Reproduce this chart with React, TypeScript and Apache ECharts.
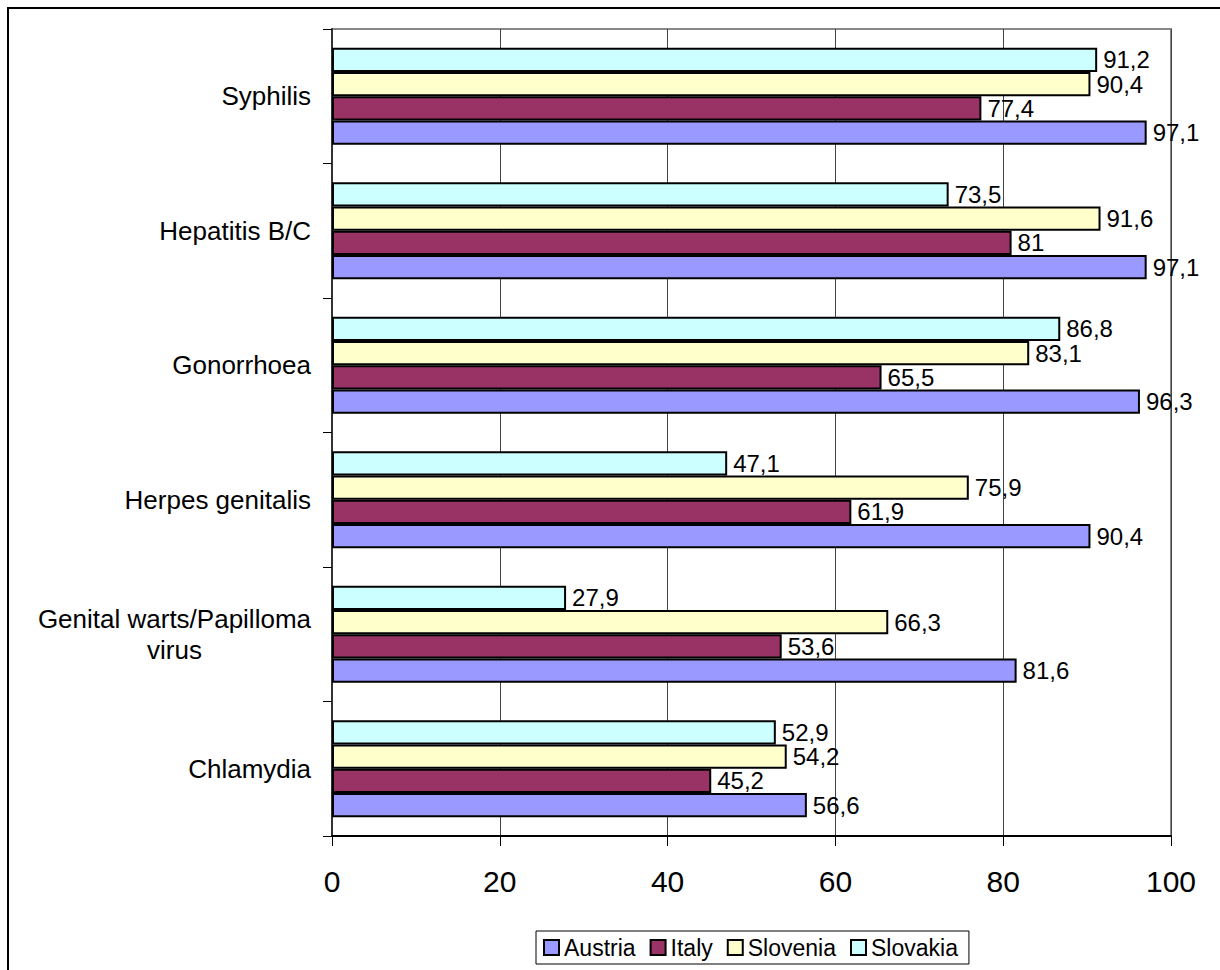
import React, { useEffect, useRef } from "react";
import * as echarts from "echarts";

const categories = [
  "Syphilis",
  "Hepatitis B/C",
  "Gonorrhoea",
  "Herpes genitalis",
  "Genital warts/Papilloma virus",
  "Chlamydia",
];
const austria = [97.1, 97.1, 96.3, 90.4, 81.6, 56.6];
const italy = [77.4, 81, 65.5, 61.9, 53.6, 45.2];
const slovenia = [90.4, 91.6, 83.1, 75.9, 66.3, 54.2];
const slovakia = [91.2, 73.5, 86.8, 47.1, 27.9, 52.9];
const xTicks = [0, 20, 40, 60, 80, 100];

const FONT = "Liberation Sans, Arial, sans-serif";

export default function App() {
  const ref = useRef<HTMLDivElement>(null);
  useEffect(() => {
    document.body.style.margin = "0";
    document.body.style.overflow = "hidden";
    const chart = echarts.init(ref.current!, null, { renderer: "svg" });
    const mk = (name: string, data: number[], color: string) => ({
      name,
      type: "bar",
      data,
      barGap: "0%",
      barCategoryGap: "28%",
      itemStyle: { color, borderColor: "#000", borderWidth: 2 },
      label: {
        show: true,
        position: "right",
        distance: 6,
        fontFamily: FONT,
        fontSize: 24,
        color: "#000",
        formatter: (p: any) => String(p.value).replace(".", ","),
      },
    });
    chart.setOption({
      animation: false,
      textStyle: { fontFamily: FONT },
      graphic: [
        {
          type: "rect",
          shape: { x: 8, y: 8, width: 1400, height: 1200 },
          style: { fill: "none", stroke: "#000", lineWidth: 2 },
          silent: true,
        },
      ],
      grid: {
        left: 332,
        top: 29,
        right: 49,
        bottom: 134,
        show: true,
        borderColor: "#888",
        borderWidth: 2,
        containLabel: false,
      },
      legend: {
        left: 536,
        top: 931,
        orient: "horizontal",
        data: ["Austria", "Italy", "Slovenia", "Slovakia"],
        borderColor: "#000",
        borderWidth: 1,
        padding: [5, 11, 5, 7],
        itemWidth: 15,
        itemHeight: 15,
        itemGap: 14,
        icon: "rect",
        itemStyle: { borderColor: "#000", borderWidth: 2 },
        textStyle: { fontFamily: FONT, fontSize: 23, color: "#000" },
      },
      xAxis: {
        type: "value",
        min: 0,
        max: 100,
        interval: 20,
        axisLine: { show: true, lineStyle: { color: "#000", width: 2 } },
        axisTick: { show: true, length: 10, lineStyle: { color: "#000", width: 1 } },
        axisLabel: {
          fontFamily: FONT,
          fontSize: 30,
          color: "#000",
          margin: 30,
          formatter: (v: number) => (xTicks.includes(v) ? String(v) : ""),
        },
        splitLine: { show: true, lineStyle: { color: "#444", width: 1 } },
      },
      yAxis: {
        type: "category",
        data: categories,
        inverse: true,
        axisLine: { show: true, lineStyle: { color: "#333", width: 2 } },
        axisTick: { show: true, length: 9, lineStyle: { color: "#000", width: 1 } },
        axisLabel: {
          margin: 21,
          fontFamily: FONT,
          fontSize: 26,
          color: "#000",
          lineHeight: 31,
          formatter: (v: string) =>
            v === "Genital warts/Papilloma virus"
              ? "{c|Genital warts/Papilloma}\n{c|virus}"
              : v,
          rich: {
            c: { align: "center", fontFamily: FONT, fontSize: 26, color: "#000", lineHeight: 31 },
          },
        },
      },
      series: [
        mk("Slovakia", slovakia, "#CCFFFF"),
        mk("Slovenia", slovenia, "#FFFFCC"),
        mk("Italy", italy, "#993366"),
        mk("Austria", austria, "#9999FF"),
      ],
    });
    return () => chart.dispose();
  }, []);
  return <div ref={ref} style={{ width: 1220, height: 970 }} />;
}
